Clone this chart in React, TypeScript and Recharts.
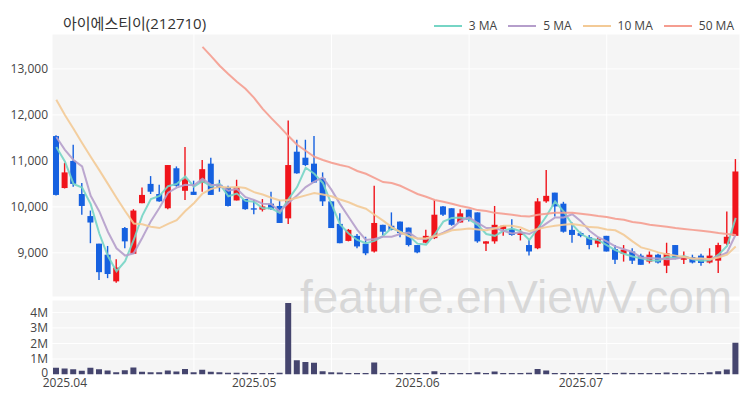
import { Bar, BarChart, CartesianGrid, ComposedChart, Line, XAxis, YAxis } from "recharts";

// trading days, 2025-03-31 .. 2025-07-25
const dates = [
  "03-31",
  "04-01", "04-02", "04-03", "04-04", "04-07", "04-08", "04-09", "04-10", "04-11", "04-14",
  "04-15", "04-16", "04-17", "04-18", "04-21", "04-22", "04-23", "04-24", "04-25", "04-28",
  "04-29", "04-30",
  "05-02", "05-07", "05-08", "05-09", "05-12", "05-13", "05-14", "05-15", "05-16", "05-19",
  "05-20", "05-21", "05-22", "05-23", "05-26", "05-27", "05-28", "05-29", "05-30",
  "06-02", "06-04", "06-05", "06-09", "06-10", "06-11", "06-12", "06-13", "06-16", "06-17",
  "06-18", "06-19", "06-20", "06-23", "06-24", "06-25", "06-26", "06-27", "06-30",
  "07-01", "07-02", "07-03", "07-04", "07-07", "07-08", "07-09", "07-10", "07-11", "07-14",
  "07-15", "07-16", "07-17", "07-18", "07-21", "07-22", "07-23", "07-24", "07-25",
];

const opens = [
  11540, 10410, 11000, 10280, 9800, 9200, 8960, 8380, 9540, 8980,
  10080, 10500, 10280, 9970, 10840, 10350, 10330, 10520, 10940, 10480,
  10430, 10140, 10170, 9970, 9940, 10070, 10020, 9750, 11200, 11070,
  10940, 10620, 10120, 9630, 9260, 9370, 9200, 9030, 9610, 9590,
  9680, 9550, 9170, 9220, 9320, 10010, 9970, 9660, 9940, 9880,
  9200, 9250, 9520, 9520, 9390, 9170, 9100, 10120, 10310, 10070,
  9500, 9430, 9340, 9200, 9370, 9080, 8980, 9030, 8940, 8810,
  8960, 8720, 9170, 8850, 8910, 8940, 8790, 8830, 9200, 9370,
];
const highs = [
  11560, 10960, 11350, 10520, 9920, 9200, 9150, 8860, 9560, 9950,
  10420, 10670, 10480, 10910, 10880, 11300, 10570, 11020, 11070, 10590,
  10460, 10590, 10170, 10150, 10170, 10330, 10150, 11880, 11460, 11460,
  11540, 10750, 10120, 9860, 9520, 9410, 9350, 10460, 9610, 9880,
  9680, 9550, 9170, 9500, 10150, 10020, 9970, 9950, 9940, 9880,
  9250, 10020, 9600, 9730, 9520, 9280, 10190, 10800, 10310, 10110,
  9660, 9460, 9390, 9340, 9370, 9170, 9170, 9100, 8980, 9030,
  8980, 9220, 9170, 9030, 8960, 8980, 9100, 9220, 9900, 11040,
];
const lows = [
  10250, 10400, 10440, 9830, 9210, 8410, 8450, 8350, 9100, 8980,
  10080, 10280, 10110, 9950, 10440, 10150, 10260, 10330, 10260, 10330,
  10010, 10140, 9940, 9840, 9900, 9940, 9650, 9630, 10720, 10890,
  10520, 10020, 9540, 9210, 9250, 9100, 8950, 9010, 9390, 9490,
  9340, 9140, 8990, 9210, 9300, 9800, 9590, 9660, 9680, 9220,
  9040, 9200, 9370, 9370, 9270, 8940, 9080, 10090, 9790, 9440,
  9220, 9340, 9080, 9120, 9030, 8760, 8810, 8760, 8740, 8770,
  8770, 8560, 8860, 8760, 8770, 8720, 8770, 8560, 9170, 9370,
];
const closes = [
  10260, 10750, 10500, 10020, 9660, 8580, 8540, 8680, 9250, 9920,
  10260, 10330, 10120, 10910, 10460, 10600, 10260, 10820, 10260, 10410,
  10020, 10430, 9950, 9940, 10010, 9950, 9650, 10910, 10730, 10910,
  10530, 10120, 9540, 9210, 9500, 9140, 8990, 9650, 9460, 9500,
  9430, 9170, 9010, 9370, 9830, 9830, 9610, 9860, 9720, 9250,
  9250, 9610, 9590, 9390, 9430, 9030, 10120, 10240, 10010, 9460,
  9390, 9370, 9170, 9300, 9030, 8850, 9070, 8830, 8740, 8960,
  8790, 8990, 8880, 8920, 8790, 8780, 8940, 9170, 9350, 10770,
];
// volume, millions of shares
const volumes = [
  0.43, 0.38, 0.34, 0.24, 0.43, 0.34, 0.26, 0.15, 0.28, 0.45,
  0.17, 0.15, 0.15, 0.26, 0.19, 0.36, 0.15, 0.3, 0.17, 0.15,
  0.11, 0.11, 0.11, 0.1, 0.1, 0.1, 0.11, 4.6, 0.92, 0.81,
  0.75, 0.21, 0.15, 0.13, 0.09, 0.09, 0.1, 0.77, 0.1, 0.09,
  0.09, 0.1, 0.09, 0.1, 0.21, 0.09, 0.09, 0.09, 0.1, 0.15,
  0.09, 0.19, 0.1, 0.09, 0.09, 0.11, 0.36, 0.26, 0.1, 0.09,
  0.09, 0.09, 0.1, 0.09, 0.1, 0.09, 0.11, 0.1, 0.1, 0.09,
  0.1, 0.13, 0.09, 0.09, 0.09, 0.09, 0.15, 0.21, 0.32, 2.05,
];

const ma3 = [
  11300, 10990, 10500, 10420, 10060, 9420, 8930, 8600, 8820, 9280,
  9810, 10170, 10240, 10450, 10500, 10660, 10440, 10560, 10450, 10500,
  10230, 10290, 10130, 10110, 9970, 9970, 9870, 10170, 10430, 10850,
  10720, 10520, 10060, 9620, 9420, 9280, 9210, 9260, 9370, 9540,
  9460, 9370, 9200, 9180, 9400, 9680, 9760, 9770, 9730, 9610,
  9410, 9370, 9480, 9530, 9470, 9280, 9530, 9800, 10120, 9900,
  9620, 9410, 9310, 9280, 9170, 9060, 8980, 8920, 8880, 8840,
  8830, 8910, 8890, 8930, 8860, 8830, 8840, 8960, 9150, 9760,
];
const ma5 = [
  11520, 11240, 11020, 10880, 10240, 9900, 9460, 9100, 8940, 8990,
  9330, 9690, 9980, 10310, 10420, 10480, 10470, 10610, 10480, 10470,
  10350, 10390, 10210, 10150, 10070, 10060, 9900, 10090, 10250, 10430,
  10550, 10640, 10370, 10060, 9780, 9500, 9280, 9300, 9350, 9350,
  9410, 9440, 9310, 9300, 9360, 9440, 9530, 9700, 9770, 9650,
  9540, 9540, 9480, 9420, 9450, 9410, 9510, 9640, 9770, 9770,
  9840, 9690, 9480, 9340, 9250, 9140, 9080, 9020, 8900, 8890,
  8880, 8860, 8870, 8910, 8870, 8870, 8860, 8920, 9010, 9400,
];
const ma10 = [
  12330, 12000, 11700, 11390, 11090, 10800, 10500, 10200, 9910, 9640,
  9620, 9570, 9540, 9630, 9710, 9910, 10080, 10290, 10390, 10440,
  10420, 10430, 10410, 10320, 10270, 10200, 10140, 10150, 10200, 10250,
  10300, 10270, 10230, 10160, 10100, 10020, 9960, 9830, 9700, 9560,
  9450, 9360, 9310, 9320, 9360, 9420, 9490, 9510, 9530, 9510,
  9490, 9530, 9590, 9590, 9550, 9470, 9520, 9560, 9590, 9610,
  9630, 9600, 9560, 9550, 9510, 9490, 9390, 9250, 9120, 9070,
  9010, 8970, 8940, 8910, 8880, 8880, 8860, 8900, 8960, 9140,
];
const ma50 = [
  null, null, null, null, null, null, null, null, null, null,
  null, null, null, null, null, null, null, 13480, 13280, 13070,
  12890, 12720, 12570, 12370, 12130, 11930, 11740, 11540, 11350, 11220,
  11090, 11020, 10960, 10910, 10870, 10780, 10720, 10630, 10540, 10520,
  10460, 10370, 10280, 10220, 10150, 10110, 10070, 10020, 9980, 9930,
  9910, 9870, 9850, 9830, 9800, 9790, 9830, 9850, 9870, 9870,
  9870, 9850, 9830, 9800, 9780, 9740, 9720, 9670, 9650, 9610,
  9590, 9570, 9540, 9520, 9500, 9480, 9460, 9430, 9410, 9390,
];

const monthTicks = ["04-01", "05-02", "06-02", "07-01"];
const monthLabels = ["2025.04", "2025.05", "2025.06", "2025.07"];
const gridDates = ["04-22", "05-19", "06-12", "07-04"];
const priceTicks = [9000, 10000, 11000, 12000, 13000];
const volTicks = [0, 1, 2, 3, 4];

const UP = "#f0141b";
const DOWN = "#1661e0";
const VOL = "#45456e";
const PLOT_BG = "#f5f5f5";
const TXT = "#444";

const maSeries = [
  { key: "ma3", name: "3 MA", color: "#76d5c5" },
  { key: "ma5", name: "5 MA", color: "#b59ecb" },
  { key: "ma10", name: "10 MA", color: "#f3ca96" },
  { key: "ma50", name: "50 MA", color: "#f59d90" },
];

const rows = dates.map((date, i) => ({
  date,
  open: opens[i],
  high: highs[i],
  low: lows[i],
  close: closes[i],
  range: [lows[i], highs[i]],
  vol: volumes[i],
  ma3: ma3[i],
  ma5: ma5[i],
  ma10: ma10[i],
  ma50: ma50[i],
}));

function Candle(props: any) {
  const { x, y, width, height, payload } = props;
  if (x == null || y == null || !payload) return null;
  const { open, close, high, low } = payload;
  const color = close >= open ? UP : DOWN;
  const k = height / (high - low || 1);
  const py = (v: number) => y + (high - v) * k;
  const top = py(Math.max(open, close));
  const bot = py(Math.min(open, close));
  const cx = x + width / 2;
  return (
    <g>
      <line x1={cx} x2={cx} y1={y} y2={y + height} stroke={color} strokeWidth={1.4} />
      <rect x={x} y={top} width={width} height={Math.max(bot - top, 1.2)} fill={color} />
    </g>
  );
}

// volume axis label; the zero label sits a little above its line
function VolTick(props: any) {
  const { x, y, payload } = props;
  const v = payload.value;
  return (
    <text x={x} y={y} dy={v === 0 ? "0.2em" : "0.355em"} textAnchor="end" fill={TXT} fontSize={12}>
      {v === 0 ? "0" : `${v}M`}
    </text>
  );
}

const tickStyle = { fill: TXT, fontSize: 12 };

export default function App() {
  return (
    <div
      style={{
        position: "fixed",
        left: 0,
        top: 0,
        width: 750,
        height: 400,
        background: "#fff",
        fontFamily: "'Open Sans', 'Noto Sans CJK KR', sans-serif",
        overflow: "hidden",
      }}
    >
      <div style={{ position: "absolute", left: 63, top: 13, fontSize: 15, lineHeight: "20px", color: "#333" }}>
        아이에스티이(212710)
      </div>

      <div style={{ position: "absolute", right: 16, top: 17, display: "flex", alignItems: "center", fontSize: 12, color: TXT }}>
        {maSeries.map((s) => (
          <div key={s.key} style={{ display: "flex", alignItems: "center", marginLeft: 11 }}>
            <div style={{ width: 28, height: 2, background: s.color, marginRight: 7 }} />
            <span>{s.name}</span>
          </div>
        ))}
      </div>

      <div style={{ position: "absolute", left: 0, top: 0 }}>
        <ComposedChart width={750} height={300} data={rows} margin={{ top: 34, right: 10, bottom: 3, left: 0 }}>
          <CartesianGrid xAxisId="grid" fill={PLOT_BG} fillOpacity={1} stroke="#ffffff" strokeWidth={1} />
          <XAxis dataKey="date" type="category" hide />
          <XAxis xAxisId="grid" dataKey="date" type="category" ticks={gridDates} hide />
          <YAxis
            domain={[8040, 13760]}
            ticks={priceTicks}
            interval={0}
            allowDataOverflow
            width={52}
            axisLine={false}
            tickLine={false}
            tickSize={0}
            tickMargin={4}
            tick={tickStyle}
            tickFormatter={(v: number) => v.toLocaleString("en-US")}
          />
          <Bar dataKey="range" barSize={6} shape={(p: any) => <Candle {...p} />} isAnimationActive={false} />
          {maSeries.map((s) => (
            <Line
              key={s.key}
              type="linear"
              dataKey={s.key}
              stroke={s.color}
              strokeWidth={2}
              strokeOpacity={0.9}
              dot={false}
              activeDot={false}
              connectNulls={false}
              isAnimationActive={false}
            />
          ))}
        </ComposedChart>
      </div>

      <div style={{ position: "absolute", left: 0, top: 290 }}>
        <BarChart width={750} height={110} data={rows} margin={{ top: 10, right: 10, bottom: 0, left: 0 }}>
          <CartesianGrid xAxisId="grid" fill={PLOT_BG} fillOpacity={1} stroke="#ffffff" strokeWidth={1} />
          <XAxis
            dataKey="date"
            type="category"
            interval={0}
            height={25.5}
            axisLine={false}
            tickLine={false}
            tickSize={0}
            tickMargin={4}
            tick={tickStyle}
            tickFormatter={(d: string) => {
              const k = monthTicks.indexOf(d);
              return k >= 0 ? monthLabels[k] : "";
            }}
          />
          <XAxis xAxisId="grid" dataKey="date" type="category" ticks={gridDates} hide />
          <YAxis
            domain={[0, 4.8]}
            ticks={volTicks}
            interval={0}
            allowDataOverflow
            width={52}
            axisLine={false}
            tickLine={false}
            tickSize={0}
            tickMargin={4}
            tick={(p: any) => <VolTick {...p} />}
          />
          <Bar dataKey="vol" fill={VOL} barSize={6} isAnimationActive={false} />
        </BarChart>
      </div>

      <svg width={750} height={400} style={{ position: "absolute", left: 0, top: 0, pointerEvents: "none" }}>
        <text x={300} y={313} fontFamily="'Liberation Sans', Arial, sans-serif" fontSize={46} fill="#c4c4c4" fillOpacity={0.6}>
          feature.enViewV.com
        </text>
      </svg>
    </div>
  );
}
